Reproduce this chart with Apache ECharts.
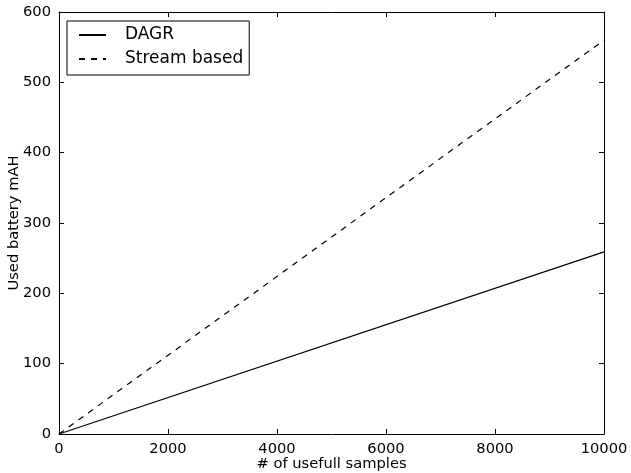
<!DOCTYPE html>
<html>
<head>
<meta charset="utf-8">
<script src="https://cdn.jsdelivr.net/npm/echarts@6/dist/echarts.min.js"></script>
<style>
html,body{margin:0;padding:0;background:#fff;}
#chart{width:631px;height:473px;}
</style>
</head>
<body>
<div id="chart"></div>
<script>
// Battery usage against number of useful samples
const samples = [0, 10000];
const dagr = [0, 259];
const streamBased = [0, 560];
const seriesNames = ['DAGR', 'Stream based'];
const xLabel = '# of usefull samples';
const yLabel = 'Used battery mAH';

const font = 'DejaVu Sans';
const fontSize = 14.7;
const chart = echarts.init(document.getElementById('chart'));

function axisCommon(show) {
  return {
    axisLine: { show: true, onZero: false, lineStyle: { color: '#000', width: 1 } },
    axisTick: { show: true, inside: true, length: 5, lineStyle: { color: '#000' } },
    axisLabel: { show: show, color: '#000', fontFamily: font, fontSize: fontSize, formatter: v => String(v) },
    splitLine: { show: false }
  };
}

chart.setOption({
  animation: false,
  backgroundColor: '#fff',
  grid: { left: 59, right: 27, top: 12, bottom: 39, containLabel: false, outerBoundsMode: 'none' },
  legend: {
    left: 67, top: 21,
    orient: 'vertical',
    borderColor: '#000', borderWidth: 1, borderRadius: 0,
    padding: [5, 6, 7, 11],
    itemWidth: 27, itemHeight: 14, itemGap: 6,
    itemStyle: { color: 'transparent', borderWidth: 0 },
    textStyle: { fontFamily: font, fontSize: 17, lineHeight: 18, color: '#000', padding: [0, 0, 0, 14] },
    data: seriesNames
  },
  xAxis: [
    Object.assign({ type: 'value', min: 0, max: 10000, interval: 2000, position: 'bottom',
      name: xLabel, nameLocation: 'middle', nameGap: 23, nameMoveOverlap: false,
      nameTextStyle: { fontFamily: font, fontSize: fontSize, color: '#000' } }, axisCommon(true)),
    Object.assign({ type: 'value', min: 0, max: 10000, interval: 2000, position: 'top' }, axisCommon(false))
  ],
  yAxis: [
    Object.assign({ type: 'value', min: 0, max: 600, interval: 100, position: 'left',
      name: yLabel, nameLocation: 'middle', nameGap: 37, nameMoveOverlap: false,
      nameTextStyle: { fontFamily: font, fontSize: fontSize, color: '#000' } }, axisCommon(true)),
    Object.assign({ type: 'value', min: 0, max: 600, interval: 100, position: 'right' }, axisCommon(false))
  ],
  series: [
    {
      name: seriesNames[0], type: 'line', symbol: 'none',
      data: samples.map((x, i) => [x, dagr[i]]),
      lineStyle: { color: '#000', width: 1.2, type: 'solid' },
      itemStyle: { color: '#000' }
    },
    {
      name: seriesNames[1], type: 'line', symbol: 'none',
      data: samples.map((x, i) => [x, streamBased[i]]),
      lineStyle: { color: '#000', width: 1.2, type: [6, 6] },
      itemStyle: { color: '#000' }
    }
  ]
});
</script>
</body>
</html>
